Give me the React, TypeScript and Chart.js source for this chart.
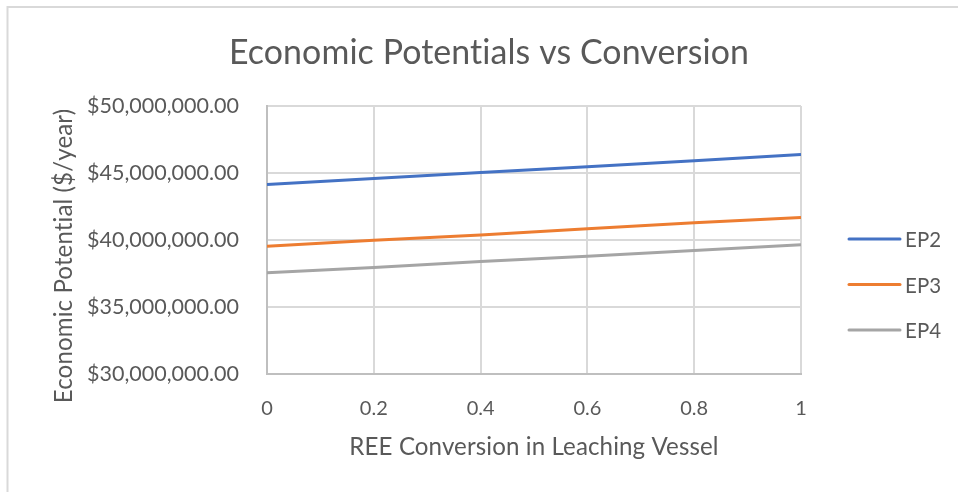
import React, { useEffect, useRef } from 'react';
import { Chart, registerables } from 'chart.js';

Chart.register(...registerables);

// REE conversion in the leaching vessel (fraction)
const conversion = [0, 0.2, 0.4, 0.6, 0.8, 1];

// Economic potentials, $/year
const ep2 = [44140000, 44590000, 45040000, 45460000, 45910000, 46380000];
const ep3 = [39540000, 39990000, 40380000, 40840000, 41280000, 41680000];
const ep4 = [37550000, 37950000, 38400000, 38790000, 39220000, 39640000];

const seriesNames = ['EP2', 'EP3', 'EP4'];
const seriesColors = ['#4472C4', '#ED7D31', '#A5A5A5'];

const chartTitle = 'Economic Potentials vs Conversion';
const xTitle = 'REE Conversion in Leaching Vessel';
const yTitle = 'Economic Potential ($/year)';

const FONT = 'Lato, "Open Sans", sans-serif';
const TEXT = '#595959';

function fitSize(ctx: CanvasRenderingContext2D, text: string, width: number) {
  ctx.font = `100px ${FONT}`;
  return (100 * width) / ctx.measureText(text).width;
}

const decorations = {
  id: 'decorations',
  beforeDraw(chart: any) {
    const ctx: CanvasRenderingContext2D = chart.ctx;
    ctx.save();
    ctx.strokeStyle = '#d9d9d9';
    ctx.lineWidth = 2;
    ctx.strokeRect(7.5, 7, 1200, 1200);
    ctx.restore();
  },
  afterDraw(chart: any) {
    const ctx: any = chart.ctx;
    const area = chart.chartArea;
    ctx.save();
    // a tiny letter spacing keeps the glyphs unligated
    ctx.letterSpacing = '0.1px';
    ctx.fillStyle = TEXT;
    ctx.textBaseline = 'alphabetic';
    ctx.textAlign = 'center';

    // chart title
    const ts = fitSize(ctx, chartTitle, 518);
    ctx.font = `${ts}px ${FONT}`;
    ctx.fillText(chartTitle, 489, 64);

    // axis titles
    const as = fitSize(ctx, xTitle, 367);
    ctx.font = `${as}px ${FONT}`;
    ctx.fillText(xTitle, (area.left + area.right) / 2, 455);

    ctx.save();
    ctx.translate(72, 256);
    ctx.rotate(-Math.PI / 2);
    ctx.fillText(yTitle, 0, 0);
    ctx.restore();

    // legend
    const ls = fitSize(ctx, 'EP2', 36);
    ctx.textAlign = 'left';
    ctx.lineCap = 'round';
    const rows = [239, 284.5, 330];
    chart.data.datasets.forEach((ds: any, i: number) => {
      const y = rows[i];
      ctx.strokeStyle = ds.borderColor;
      ctx.lineWidth = 3;
      ctx.beginPath();
      ctx.moveTo(849, y);
      ctx.lineTo(900, y);
      ctx.stroke();
      ctx.font = `${ls}px ${FONT}`;
      ctx.fillStyle = TEXT;
      ctx.fillText(ds.label, 905, y + 8.3);
    });
    ctx.restore();
  },
};

export default function App() {
  const canvasRef = useRef<HTMLCanvasElement | null>(null);

  useEffect(() => {
    document.body.style.margin = '0';
    const canvas = canvasRef.current;
    if (!canvas) return;
    const values = [ep2, ep3, ep4];
    const chart = new Chart(canvas, {
      type: 'line',
      data: {
        datasets: values.map((vals, i) => ({
          label: seriesNames[i],
          data: conversion.map((x, j) => ({ x, y: vals[j] })),
          borderColor: seriesColors[i],
          backgroundColor: seriesColors[i],
          borderWidth: 3,
          pointRadius: 0,
          tension: 0,
        })),
      },
      options: {
        animation: false,
        responsive: false,
        devicePixelRatio: 1,
        layout: { padding: { top: 106, right: 157, left: 0, bottom: 0 } },
        plugins: {
          legend: { display: false },
          title: { display: false },
          tooltip: { enabled: false },
        },
        scales: {
          x: {
            type: 'linear',
            min: 0,
            max: 1,
            ticks: {
              stepSize: 0.2,
              padding: 23,
              color: TEXT,
              font: { family: FONT, size: 20 },
              callback: (v: any) => String(Number(Number(v).toFixed(1))),
            },
            grid: { color: '#d9d9d9', lineWidth: 2, drawTicks: false },
            border: { color: '#bfbfbf', width: 2 },
            afterFit(scale: any) {
              scale.height = 118;
            },
          },
          y: {
            min: 30000000,
            max: 50000000,
            ticks: {
              stepSize: 5000000,
              padding: 28,
              color: TEXT,
              font: { family: FONT, size: 21.5 },
              callback: (v: any) =>
                '$' +
                Number(v).toLocaleString('en-US', {
                  minimumFractionDigits: 2,
                  maximumFractionDigits: 2,
                }),
            },
            grid: { color: '#d9d9d9', lineWidth: 2, drawTicks: false },
            border: { color: '#bfbfbf', width: 2 },
            afterFit(scale: any) {
              scale.width = 267;
            },
          },
        },
      },
      plugins: [decorations],
    });
    return () => chart.destroy();
  }, []);

  return (
    <div style={{ position: 'fixed', left: 0, top: 0, width: 958, height: 492, background: '#fff' }}>
      <canvas ref={canvasRef} width={958} height={492} />
    </div>
  );
}
